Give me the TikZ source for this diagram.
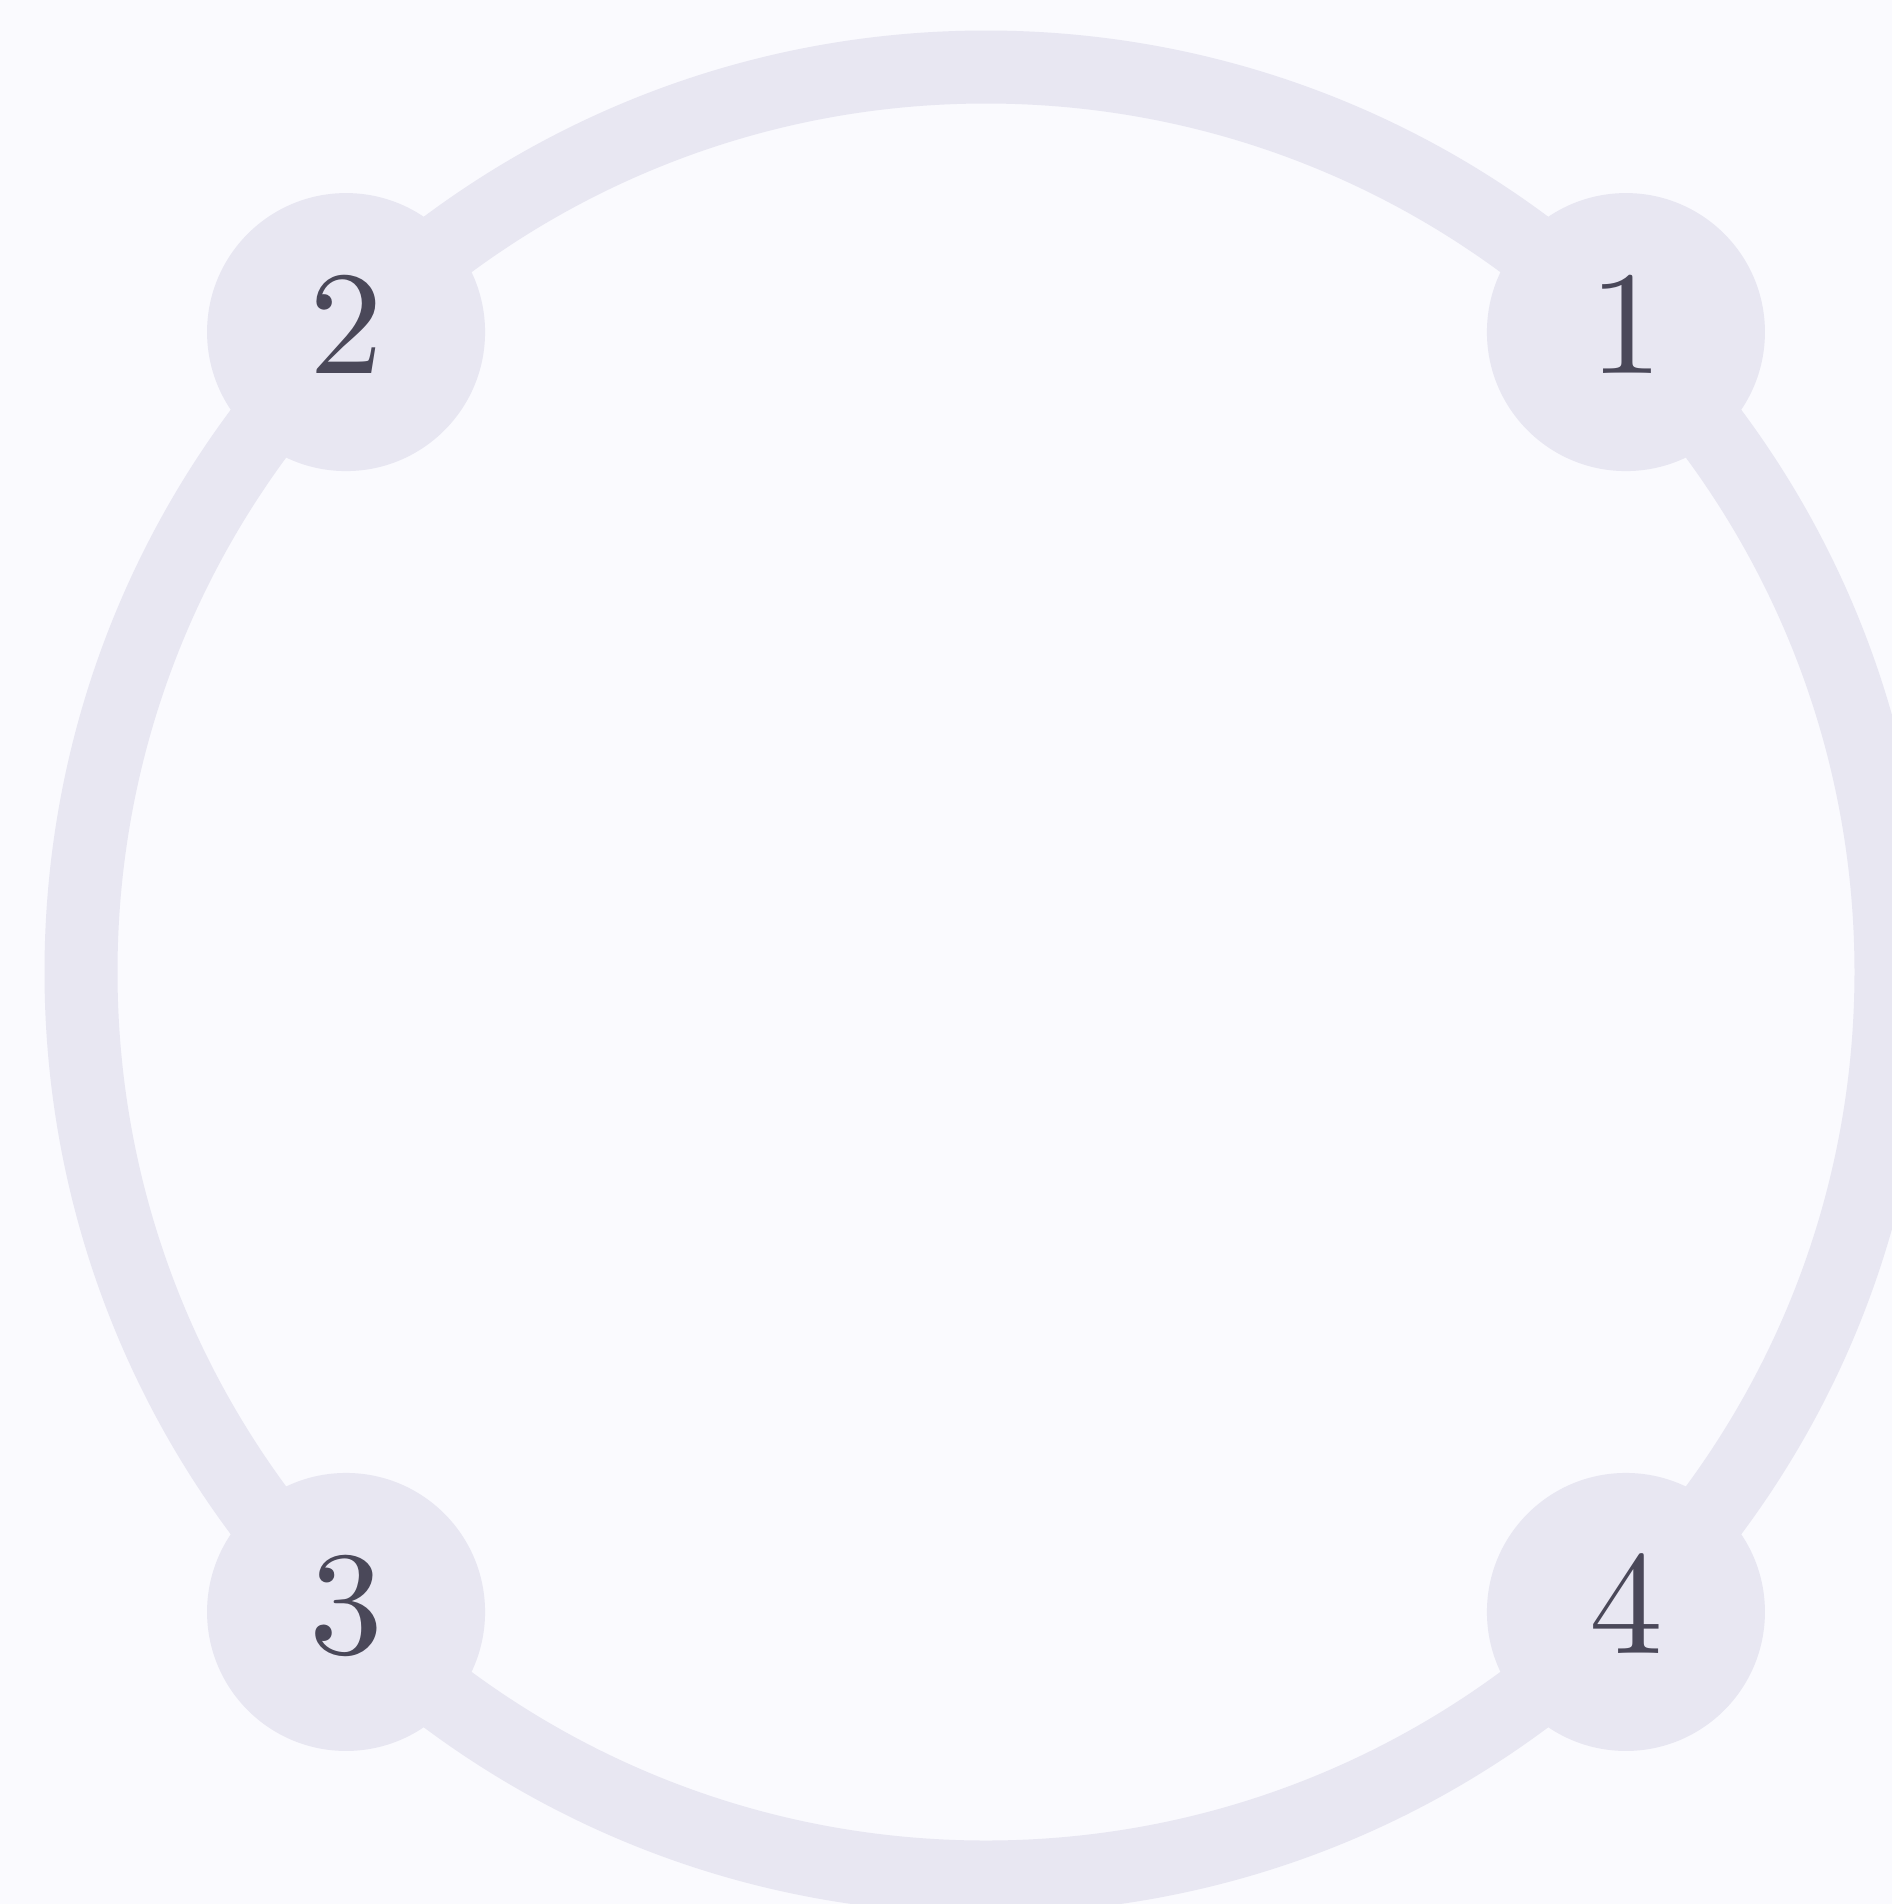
\documentclass[tikz,border=0pt]{standalone}
\usepackage{tikz}
\usepackage{xcolor}
\usetikzlibrary{calc}
\definecolor{paper}{HTML}{FAFAFE}
\definecolor{lavender}{HTML}{E8E7F2}
\definecolor{slate}{HTML}{4A4859}
\font\vtxfont=cmr10 at 42pt

\begin{document}
\begin{tikzpicture}[
  ring/.style={draw=lavender,line width=0.73cm},
  vtx/.style={circle,fill=lavender,inner sep=0pt,minimum size=2.78cm,text=slate,text depth=3.4pt,font=\vtxfont}
]
\fill[paper] (0,0) rectangle (18.92,-19.04);
\useasboundingbox (0,0) rectangle (18.92,-19.04);
\coordinate (ctr) at (9.86,-9.72);
\draw[ring] (ctr) circle (9.05);
\node[vtx] (one) at ($(ctr)+(45:9.05)$) {1};
\node[vtx] (two) at ($(ctr)+(135:9.05)$) {2};
\node[vtx] (three) at ($(ctr)+(225:9.05)$) {3};
\node[vtx] (four) at ($(ctr)+(315:9.05)$) {4};
\end{tikzpicture}
\end{document}
